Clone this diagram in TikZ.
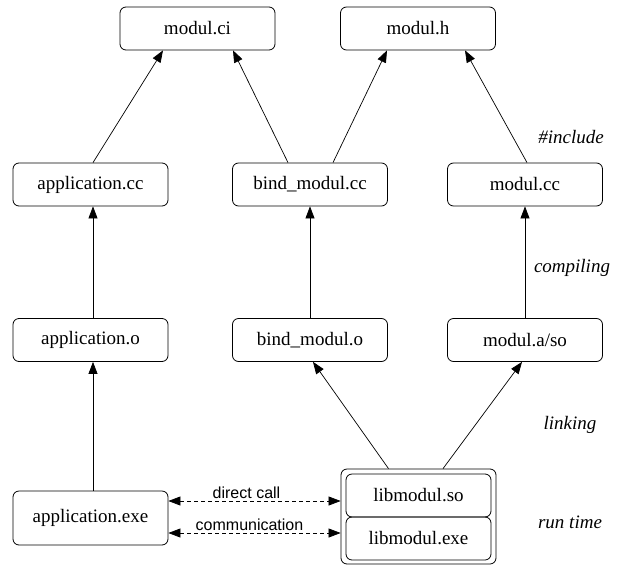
\documentclass[tikz,border=0pt]{standalone}
\usepackage{fontspec}
\setmainfont{Liberation Serif}
\newfontfamily\labelfont{Liberation Sans}
\usetikzlibrary{arrows.meta,positioning}

\tikzset{
  file/.style={draw, rounded corners=6pt, line width=0.8pt, inner sep=0pt,
    minimum width=155pt, minimum height=43pt,
    font=\fontsize{19}{22}\selectfont},
  phase/.style={font=\fontsize{19}{22}\selectfont\itshape},
  dep/.style={-{Triangle[length=12pt,width=9pt]}, line width=0.7pt},
  call/.style={{Triangle[length=12pt,width=9pt]}-{Triangle[length=12pt,width=9pt]},
    line width=0.7pt, dash pattern=on 4pt off 3pt},
  calllabel/.style={font=\labelfont\fontsize{16}{18}\selectfont, inner sep=1pt}
}

\begin{document}
\begin{tikzpicture}[x=1pt,y=-1pt]
  \useasboundingbox (0,0) rectangle (621,565);

  % headers
  \node[file] (ci) at (197.5,28.5) {modul.ci};
  \node[file] (h)  at (418,28.5)   {modul.h};

  % sources
  \node[file] (appcc)  at (90.5,184.5) {application.cc};
  \node[file] (bindcc) at (310,184.5)  {bind\_modul.cc};
  \node[file] (modcc)  at (525,184.5)  {modul.cc};

  % objects
  \node[file] (appo)  at (90.5,340) {application.o};
  \node[file] (bindo) at (310,340)  {bind\_modul.o};
  \node[file] (moda)  at (525,340)  {modul.a/so};

  % executables
  \node[file, minimum height=54pt] (appexe) at (90.5,518) {application.exe};
  \node[file, minimum height=95pt] (lib) at (418.5,516.5) {};
  \node[file, minimum width=145pt] (libso)  at (418.5,495.5) {libmodul.so};
  \node[file, minimum width=145pt] (libexe) at (418.5,538.5) {libmodul.exe};

  % #include
  \draw[dep] ([xshift=2.5pt]appcc.north)  -- ([xshift=-34.5pt]ci.south);
  \draw[dep] ([xshift=-22pt]bindcc.north) -- ([xshift=35.5pt]ci.south);
  \draw[dep] ([xshift=23pt]bindcc.north)  -- ([xshift=-31pt]h.south);
  \draw[dep] ([xshift=2pt]modcc.north)    -- ([xshift=47pt]h.south);

  % compiling
  \draw[dep] ([xshift=2.5pt]appo.north) -- ([xshift=2.5pt]appcc.south);
  \draw[dep] (bindo) -- (bindcc);
  \draw[dep] (moda)  -- (modcc);

  % linking
  \draw[dep] ([xshift=2.5pt]appexe.north) -- ([xshift=2.5pt]appo.south);
  \draw[dep] ([xshift=-30pt]lib.north) -- ([xshift=3pt]bindo.south);
  \draw[dep] ([xshift=24.5pt]lib.north) -- ([xshift=-3pt]moda.south);

  % run time
  \draw[call] ([yshift=17pt]appexe.east) -- node[calllabel, above=1pt, xshift=-8pt] {direct call}
    ([yshift=15.5pt]lib.west);
  \draw[call] ([yshift=-15pt]appexe.east) -- node[calllabel, above=1pt, xshift=-5pt] {communication}
    ([yshift=-16.5pt]lib.west);

  % phases
  \node[phase] (tinclude) at (571,137) {\#include};
  \node[phase] (tcompile) at (572,268) {compiling};
  \node[phase] (tlink)    at (570,425) {linking};
  \node[phase] (trun)     at (570,522) {run time};
\end{tikzpicture}
\end{document}
